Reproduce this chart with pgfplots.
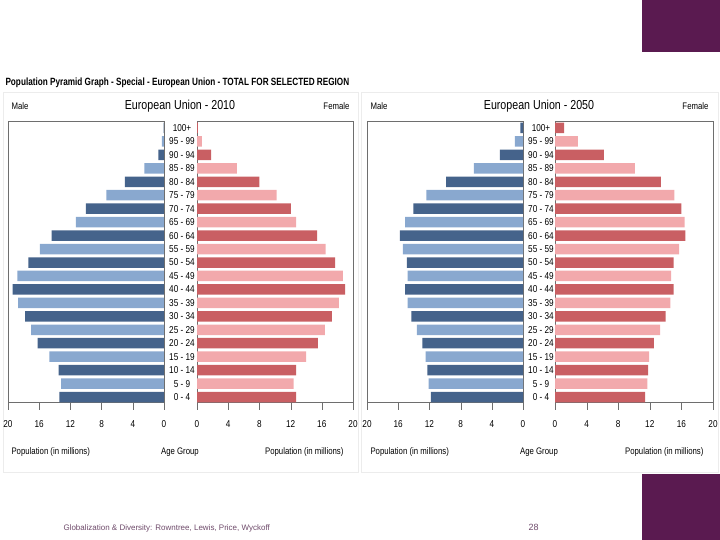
\documentclass[border=0pt]{standalone}
\usepackage{pgfplots}
\pgfplotsset{compat=1.18}
\usepackage{fontspec}
\setmainfont{Liberation Sans}
\newfontfamily\chartfont{Liberation Sans}[FakeStretch=0.82]
\newfontfamily\titlefont{Liberation Sans}[FakeStretch=0.78]

\definecolor{mdark}{HTML}{45638B}
\definecolor{mlight}{HTML}{89A8CF}
\definecolor{fdark}{HTML}{C95F63}
\definecolor{flight}{HTML}{F2A9AC}
\definecolor{framec}{HTML}{6E6E6E}
\definecolor{slide}{HTML}{5A1A50}
\definecolor{foot}{HTML}{6E4A6A}

\pgfplotsset{
  pyr/.style={
    xbar, bar shift=0pt, bar width=10.5pt,
    scale only axis, width=156pt, height=281pt,
    xmin=0, xmax=20, ymin=-0.37, ymax=20.52,
    axis line style={framec},
    xtick={0,4,...,20}, xtick pos=bottom, tick align=outside, major tick length=8pt,
    x tick style={framec},
    xticklabel style={font=\chartfont\fontsize{10}{11}\selectfont, yshift=-7pt},
    /pgf/number format/assume math mode=true,
    ytick=\empty,
    every axis plot/.append style={draw=none, bar shift=0pt},
    clip=false,
  },
  malepyr/.style={pyr, x dir=reverse,
    ytick={0,...,20}, y tick style={draw=none},
    yticklabel pos=right,
    yticklabels={0 - 4,5 - 9,10 - 14,15 - 19,20 - 24,25 - 29,30 - 34,35 - 39,40 - 44,45 - 49,50 - 54,55 - 59,60 - 64,65 - 69,70 - 74,75 - 79,80 - 84,85 - 89,90 - 94,95 - 99,100+},
    yticklabel style={anchor=center, xshift=10pt, inner sep=0pt, font=\chartfont\fontsize{10}{11}\selectfont},
  },
}

\begin{document}
\begin{tikzpicture}[x=1pt,y=1pt]
\path[use as bounding box] (0,0) rectangle (720,540);
% slide decoration
\fill[slide] (642,488) rectangle (720,540);
\fill[slide] (642,0) rectangle (720,66);
% panel frames
\draw[gray!15] (3,68) rectangle (358,448);
\draw[gray!15] (361,68) rectangle (718,448);

\node[anchor=west, font=\titlefont\bfseries\fontsize{10.5}{12}\selectfont] at (2,457) {Population Pyramid Graph - Special - European Union - TOTAL FOR SELECTED REGION};

% ---------- 2010 ----------
\node[anchor=base west, font=\chartfont\fontsize{9.5}{10}\selectfont] at (8,430) {Male};
\node[anchor=base, font=\chartfont\fontsize{13}{14}\selectfont] at (180,430) {European Union - 2010};
\node[anchor=base east, font=\chartfont\fontsize{9.5}{10}\selectfont] at (353,430) {Female};

\begin{axis}[pyr, at={(197pt,138pt)}, anchor=south west]
\addplot[fill=fdark] coordinates {(12.7,0) (12.7,2) (15.5,4) (17.3,6) (19.0,8) (17.7,10) (15.4,12) (12.05,14) (8.0,16) (1.8,18) (0.12,20)};
\addplot[fill=flight] coordinates {(12.4,1) (14.0,3) (16.4,5) (18.2,7) (18.7,9) (16.5,11) (12.7,13) (10.2,15) (5.1,17) (0.64,19)};
\end{axis}
\begin{axis}[malepyr, at={(8pt,138pt)}, anchor=south west]
\addplot[fill=mdark] coordinates {(13.4,0) (13.5,2) (16.2,4) (17.8,6) (19.4,8) (17.4,10) (14.4,12) (10.0,14) (5.0,16) (0.73,18) (0.05,20)};
\addplot[fill=mlight] coordinates {(13.2,1) (14.7,3) (17.05,5) (18.7,7) (18.8,9) (15.9,11) (11.3,13) (7.4,15) (2.5,17) (0.26,19)};
\end{axis}

\node[anchor=base west, font=\chartfont\fontsize{9.5}{10}\selectfont] at (8,85) {Population (in millions)};
\node[anchor=base, font=\chartfont\fontsize{9.5}{10}\selectfont] at (180,85) {Age Group};
\node[anchor=base east, font=\chartfont\fontsize{9.5}{10}\selectfont] at (347,85) {Population (in millions)};

% ---------- 2050 ----------
\node[anchor=base west, font=\chartfont\fontsize{9.5}{10}\selectfont] at (367,430) {Male};
\node[anchor=base, font=\chartfont\fontsize{13}{14}\selectfont] at (539,430) {European Union - 2050};
\node[anchor=base east, font=\chartfont\fontsize{9.5}{10}\selectfont] at (712,430) {Female};

\begin{axis}[pyr, at={(555pt,138pt)}, anchor=south west, width=158pt]
\addplot[fill=fdark] coordinates {(11.4,0) (11.8,2) (12.5,4) (14.0,6) (15.0,8) (15.0,10) (16.5,12) (16.0,14) (13.4,16) (6.2,18) (1.16,20)};
\addplot[fill=flight] coordinates {(11.7,1) (11.9,3) (13.3,5) (14.6,7) (14.7,9) (15.7,11) (16.4,13) (15.1,15) (10.1,17) (2.9,19)};
\end{axis}
\begin{axis}[malepyr, at={(367pt,138pt)}, anchor=south west]
\addplot[fill=mdark] coordinates {(11.8,0) (12.25,2) (12.9,4) (14.3,6) (15.1,8) (14.9,10) (15.8,12) (14.05,14) (9.85,16) (2.95,18) (0.34,20)};
\addplot[fill=mlight] coordinates {(12.1,1) (12.5,3) (13.6,5) (14.8,7) (14.8,9) (15.4,11) (15.1,13) (12.4,15) (6.3,17) (1.03,19)};
\end{axis}

\node[anchor=base west, font=\chartfont\fontsize{9.5}{10}\selectfont] at (367,85) {Population (in millions)};
\node[anchor=base, font=\chartfont\fontsize{9.5}{10}\selectfont] at (539,85) {Age Group};
\node[anchor=base east, font=\chartfont\fontsize{9.5}{10}\selectfont] at (707,85) {Population (in millions)};

% footer
\node[anchor=base west, text=foot, font=\fontsize{8}{9}\selectfont] at (60,9) {Globalization \& Diversity: Rowntree, Lewis, Price, Wyckoff};
\node[anchor=base west, text=foot, font=\fontsize{9}{10}\selectfont] at (525,9) {28};
\end{tikzpicture}
\end{document}
